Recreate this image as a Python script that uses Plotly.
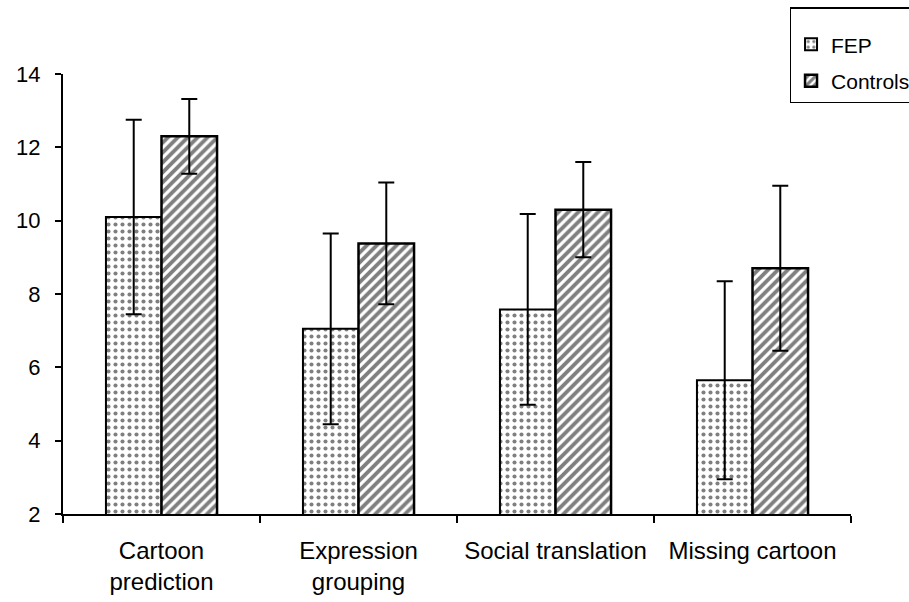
import plotly.graph_objects as go

# Task scores by group (mean and standard deviation)
categories = ["Cartoon<br>prediction", "Expression<br>grouping", "Social translation", "Missing cartoon"]
fep_mean = [10.1, 7.05, 7.58, 5.65]
fep_sd = [2.65, 2.6, 2.6, 2.7]
ctrl_mean = [12.3, 9.38, 10.3, 8.7]
ctrl_sd = [1.02, 1.66, 1.3, 2.25]
y_ticks = [2, 4, 6, 8, 10, 12, 14]

FONT = "Liberation Sans, Arial, sans-serif"

fig = go.Figure()
fig.add_trace(go.Bar(
    name="FEP", x=categories, y=fep_mean, legendgroup="fep",
    error_y=dict(type="data", array=fep_sd, visible=True, color="black", thickness=2, width=8),
    marker=dict(color="white", line=dict(color="black", width=2),
                pattern=dict(shape=".", fgcolor="black", bgcolor="white", size=7, solidity=0.27)),
))
fig.add_trace(go.Bar(
    name="Controls", x=categories, y=ctrl_mean, legendgroup="ctrl",
    error_y=dict(type="data", array=ctrl_sd, visible=True, color="black", thickness=2, width=8),
    marker=dict(color="black", line=dict(color="black", width=2.5),
                pattern=dict(shape="/", fgcolor="black", bgcolor="white", size=7, solidity=0.55)),
))

fig.update_layout(
    width=909, height=602,
    margin=dict(l=63, r=58, t=74, b=88, autoexpand=False),
    paper_bgcolor="white", plot_bgcolor="white",
    barmode="group", bargap=0.436, bargroupgap=0,
    font=dict(family=FONT, color="black"),
    showlegend=True,
    legend=dict(
        x=0.922, y=1.152, xanchor="left", yanchor="top",
        bgcolor="white", bordercolor="black", borderwidth=1.5,
        font=dict(size=21, family=FONT, color="black"),
        title=dict(text=" ", font=dict(size=12)),
        itemwidth=30, tracegroupgap=6,
    ),
    xaxis=dict(
        showline=True, linecolor="black", linewidth=2,
        ticks="outside", tickson="boundaries", ticklen=7, tickwidth=1.5, tickcolor="black",
        tickfont=dict(size=24, family=FONT, color="black"),
        tickangle=0, automargin=False,
        ticklabelstandoff=14,
        showgrid=False, zeroline=False,
    ),
    yaxis=dict(
        range=[2, 14], tickvals=y_ticks, automargin=False,
        showline=True, linecolor="black", linewidth=2,
        ticks="outside", ticklen=6, tickwidth=1.5, tickcolor="black",
        tickfont=dict(size=22, family=FONT, color="black"),
        ticklabelstandoff=10,
        showgrid=False, zeroline=False,
    ),
)

fig.write_html("out.html")
